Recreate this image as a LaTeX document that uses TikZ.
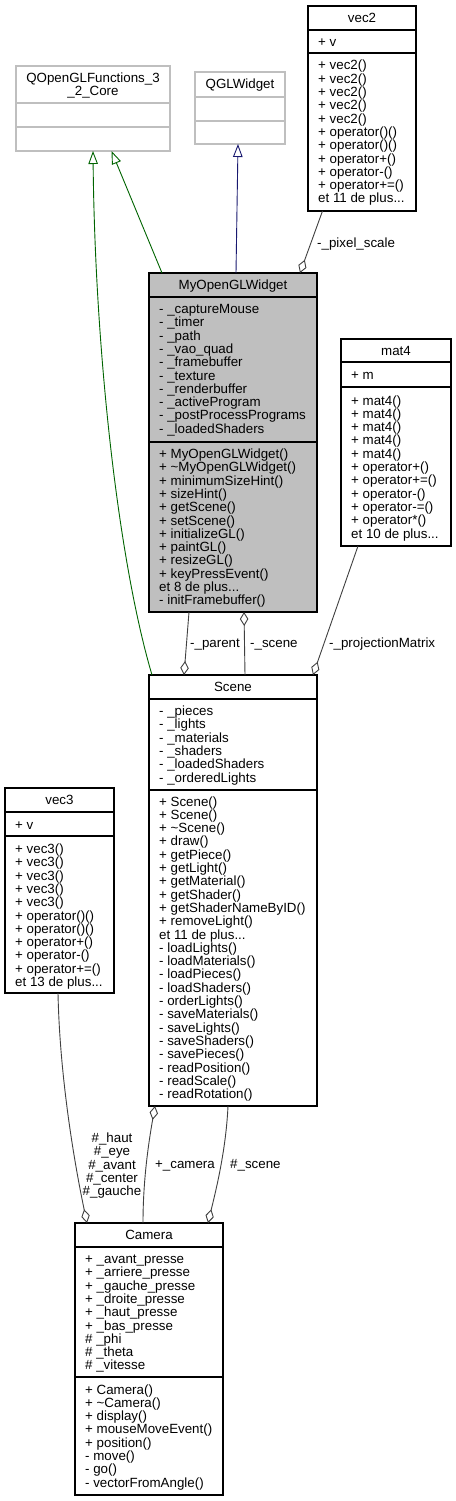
\documentclass[tikz,border=0pt]{standalone}
\usepackage{fontspec}
\setmainfont{Liberation Sans}
\usetikzlibrary{arrows.meta}
\definecolor{edgegray}{HTML}{404040}
\definecolor{inhgreen}{HTML}{006400}
\definecolor{inhblue}{HTML}{191970}
\definecolor{boxgray}{HTML}{BFBFBF}
\newcommand{\ft}{\fontsize{13.33}{13.3}\selectfont}
\newcommand{\mlines}[1]{\vtop{\let\\\cr\baselineskip=13.3pt\lineskiplimit=-100pt\halign{##\hfil\cr#1\crcr}}}
\newcommand{\clines}[1]{\vtop{\let\\\cr\baselineskip=13.3pt\lineskiplimit=-100pt\halign{\hfil##\hfil\cr#1\crcr}}}
\tikzset{
  classbox/.style={draw=black, line width=1.1pt, fill=white, inner sep=0pt, outer sep=0pt, anchor=north west},
  extbox/.style={classbox, draw=boxgray},
  graybox/.style={classbox, fill=boxgray},
  sepline/.style={draw=black, line width=1.1pt},
  extsep/.style={draw=boxgray, line width=1.1pt},
  txt/.style={anchor=base west, inner sep=0pt, font=\ft},
  ttl/.style={anchor=base, inner sep=0pt, font=\ft},
  lbl/.style={anchor=base west, inner sep=0pt, font=\ft},
  edge/.style={draw=edgegray, line width=0.9pt},
  agg/.style={edge, {Diamond[open,length=14pt,width=8.5pt]}-},
  inhg/.style={draw=inhgreen, line width=0.9pt, -{Triangle[open,length=13pt,width=9.5pt]}},
  inhb/.style={draw=inhblue, line width=0.9pt, -{Triangle[open,length=13pt,width=9.5pt]}},
}
\begin{document}
\begin{tikzpicture}[x=1pt,y=-1pt]
\useasboundingbox[fill=white] (0,0) rectangle (455,1501);

% ---------------- boxes ----------------
% QOpenGLFunctions_3_2_Core
\node[extbox, minimum width=154pt, minimum height=85pt] (qogl) at (16,66) {};
\draw[extsep] (16,103) -- (170,103);
\draw[extsep] (16,127) -- (170,127);
\node[ttl] (qoglt) at (93,82.5) {\clines{QOpenGLFunctions\_3\\\_2\_Core}};

% QGLWidget
\node[extbox, minimum width=90pt, minimum height=72pt] (qgl) at (195,72) {};
\draw[extsep] (195,97) -- (285,97);
\draw[extsep] (195,121) -- (285,121);
\node[ttl] (qglt) at (240,88.5) {QGLWidget};

% vec2
\node[classbox, minimum width=108pt, minimum height=205pt] (vec2) at (308,6) {};
\draw[sepline] (308,30) -- (416,30);
\draw[sepline] (308,53) -- (416,53);
\node[ttl] (vec2t) at (362,22.5) {vec2};
\node[txt] (vec2a) at (318,46.5) {+ v};
\node[txt] (vec2m) at (318,70) {\mlines{+ vec2()\\+ vec2()\\+ vec2()\\+ vec2()\\+ vec2()\\+ operator()()\\+ operator()()\\+ operator+()\\+ operator-()\\+ operator+=()\\et 11 de plus...}};

% MyOpenGLWidget
\node[graybox, minimum width=168pt, minimum height=339pt] (myw) at (149,273) {};
\draw[sepline] (149,297) -- (317,297);
\draw[sepline] (149,442) -- (317,442);
\node[ttl] (mywt) at (233,289.5) {MyOpenGLWidget};
\node[txt] (mywa) at (159,313.5) {\mlines{- \_captureMouse\\- \_timer\\- \_path\\- \_vao\_quad\\- \_framebuffer\\- \_texture\\- \_renderbuffer\\- \_activeProgram\\- \_postProcessPrograms\\- \_loadedShaders}};
\node[txt] (mywm) at (159,458.5) {\mlines{+ MyOpenGLWidget()\\+ \textasciitilde MyOpenGLWidget()\\+ minimumSizeHint()\\+ sizeHint()\\+ getScene()\\+ setScene()\\+ initializeGL()\\+ paintGL()\\+ resizeGL()\\+ keyPressEvent()\\et 8 de plus...\\- initFramebuffer()}};

% mat4
\node[classbox, minimum width=110pt, minimum height=207pt] (mat4) at (341,339) {};
\draw[sepline] (341,362) -- (451,362);
\draw[sepline] (341,387) -- (451,387);
\node[ttl] (mat4t) at (396,355.5) {mat4};
\node[txt] (mat4a) at (351,379) {+ m};
\node[txt] (mat4m) at (351,405) {\mlines{+ mat4()\\+ mat4()\\+ mat4()\\+ mat4()\\+ mat4()\\+ operator+()\\+ operator+=()\\+ operator-()\\+ operator-=()\\+ operator*()\\et 10 de plus...}};

% Scene
\node[classbox, minimum width=168pt, minimum height=431pt] (scene) at (149,675) {};
\draw[sepline] (149,699) -- (317,699);
\draw[sepline] (149,790) -- (317,790);
\node[ttl] (scenet) at (233,691.5) {Scene};
\node[txt] (scenea) at (159,715.5) {\mlines{- \_pieces\\- \_lights\\- \_materials\\- \_shaders\\- \_loadedShaders\\- \_orderedLights}};
\node[txt] (scenem) at (159,806) {\mlines{+ Scene()\\+ Scene()\\+ \textasciitilde Scene()\\+ draw()\\+ getPiece()\\+ getLight()\\+ getMaterial()\\+ getShader()\\+ getShaderNameByID()\\+ removeLight()\\et 11 de plus...\\- loadLights()\\- loadMaterials()\\- loadPieces()\\- loadShaders()\\- orderLights()\\- saveMaterials()\\- saveLights()\\- saveShaders()\\- savePieces()\\- readPosition()\\- readScale()\\- readRotation()}};

% vec3
\node[classbox, minimum width=109pt, minimum height=205pt] (vec3) at (5,788) {};
\draw[sepline] (5,812) -- (114,812);
\draw[sepline] (5,836) -- (114,836);
\node[ttl] (vec3t) at (59.5,804.5) {vec3};
\node[txt] (vec3a) at (15,829) {+ v};
\node[txt] (vec3m) at (15,853.5) {\mlines{+ vec3()\\+ vec3()\\+ vec3()\\+ vec3()\\+ vec3()\\+ operator()()\\+ operator()()\\+ operator+()\\+ operator-()\\+ operator+=()\\et 13 de plus...}};

% Camera
\node[classbox, minimum width=148pt, minimum height=272pt] (camera) at (75,1223) {};
\draw[sepline] (75,1247) -- (223,1247);
\draw[sepline] (75,1377) -- (223,1377);
\node[ttl] (camerat) at (149,1239.5) {Camera};
\node[txt] (cameraa) at (85,1263.5) {\mlines{+ \_avant\_presse\\+ \_arriere\_presse\\+ \_gauche\_presse\\+ \_droite\_presse\\+ \_haut\_presse\\+ \_bas\_presse\\\# \_phi\\\# \_theta\\\# \_vitesse}};
\node[txt] (cameram) at (85,1394) {\mlines{+ Camera()\\+ \textasciitilde Camera()\\+ display()\\+ mouseMoveEvent()\\+ position()\\- move()\\- go()\\- vectorFromAngle()}};

% ---------------- connectors ----------------
% inheritance
\draw[inhg] ([xshift=13pt]myw.north west) -- ([xshift=95.5pt]qogl.south west);
\draw[inhg] ([xshift=3pt]scene.north west) .. controls (118,560) and (95,350) .. ([xshift=77pt]qogl.south west);
\draw[inhb] ([xshift=87pt]myw.north west) -- ([xshift=43pt]qgl.south west);

% aggregations
\draw[agg] ([xshift=151pt]myw.north west) -- ([xshift=14.5pt]vec2.south west);
\node[lbl] (l1) at (317,247.5) {-\_pixel\_scale};

\draw[agg] ([xshift=35pt]scene.north west) -- ([xshift=40pt]myw.south west);
\node[lbl] (l2) at (190,647.5) {-\_parent};

\draw[agg] ([xshift=95pt]myw.south west) -- ([xshift=96pt]scene.north west);
\node[lbl] (l3) at (250,647.5) {-\_scene};

\draw[agg] ([xshift=164pt]scene.north west) -- ([xshift=17pt]mat4.south west);
\node[lbl] (l4) at (329,647.5) {-\_projectionMatrix};

\draw[agg] ([xshift=12pt]camera.north west) .. controls (79,1185) and (60,1090) .. ([xshift=53pt]vec3.south west);
\node[ttl] (l5) at (112,1142.5) {\clines{\#\_haut\\\#\_eye\\\#\_avant\\\#\_center\\\#\_gauche}};

\draw[agg] ([xshift=6pt]scene.south west) .. controls (150,1135) and (143,1175) .. ([xshift=68pt]camera.north west);
\node[lbl] (l6) at (155,1168.5) {+\_camera};

\draw[agg] ([xshift=133pt]camera.north west) .. controls (216,1190) and (226,1150) .. ([xshift=79pt]scene.south west);
\node[lbl] (l7) at (230,1168.5) {\#\_scene};
\end{tikzpicture}
\end{document}
